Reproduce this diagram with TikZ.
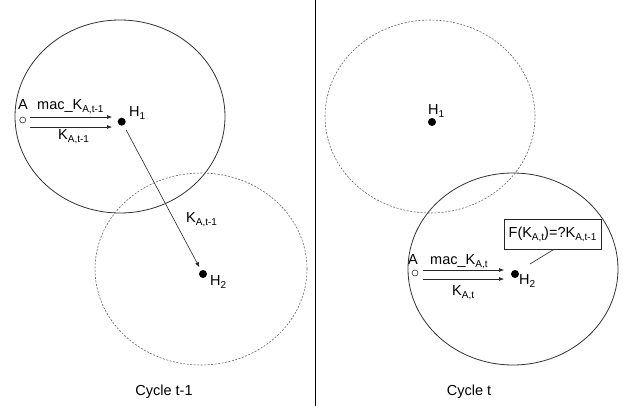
\documentclass[tikz,border=0pt]{standalone}
\usepackage{fontspec}
\setmainfont{Liberation Sans}
\usetikzlibrary{arrows.meta,calc}
\newcommand{\ms}[1]{\raisebox{-3pt}{\fontsize{10}{11}\selectfont #1}}
\begin{document}
\begin{tikzpicture}[x=1pt,y=-1pt, font=\fontsize{14.5}{16}\selectfont,
  solidell/.style={draw=black!80, line width=0.8pt},
  dashell/.style={draw=black!60, line width=0.6pt, dash pattern=on 2pt off 1.5pt},
  hdot/.style={circle, fill=black, inner sep=0pt, minimum size=8pt},
  odot/.style={circle, draw=black!80, line width=0.6pt, inner sep=0pt, minimum size=6pt},
  lbl/.style={anchor=base west, inner sep=0pt},
  arr/.style={-{Latex[length=5pt,width=4pt]}, line width=0.6pt, draw=black!85},
  thinline/.style={line width=0.6pt, draw=black!85}]
\useasboundingbox (0,0) rectangle (623,406);
% ---------- left panel: cycle t-1
\draw[solidell] (120,116.5) ellipse [x radius=105pt, y radius=96.5pt];
\draw[dashell] (201,269) ellipse [x radius=106pt, y radius=96pt];
\node[odot] (Aa) at (22.7,120) {};
\node[lbl] (AaT) at (18,110) {A};
\node[hdot] (H1a) at (121.7,121.7) {};
\node[hdot] (H2a) at (203,274) {};
\node[lbl] (H1aT) at (129,117) {H\ms{1}};
\node[lbl] (H2aT) at (210,285) {H\ms{2}};
\coordinate (a1s) at (30,117); \coordinate (a1e) at (112,117);
\coordinate (a2s) at (30,127); \coordinate (a2e) at (112,127);
\draw[arr] (a1s) -- (a1e);
\draw[arr] (a2s) -- (a2e);
\node[lbl] (macA) at (37,110) {mac\_K\ms{A,t-1}};
\node[lbl] (kA) at (58,140) {K\ms{A,t-1}};
\draw[arr, shorten <=5pt, shorten >=3.5pt] (H1a) -- (H2a);
\node[lbl] (kAmid) at (186,222) {K\ms{A,t-1}};
\node[anchor=base, inner sep=0pt] (cyc1) at (164,395) {Cycle t-1};
% ---------- divider
\coordinate (dTop) at (315,0); \coordinate (dBot) at (315,406);
\draw[line width=0.8pt] (dTop) -- (dBot);
% ---------- right panel: cycle t
\draw[dashell] (430,116.5) ellipse [x radius=105pt, y radius=96.5pt];
\draw[solidell] (513,269) ellipse [x radius=105pt, y radius=96pt];
\node[hdot] (H1b) at (432,122) {};
\node[lbl] (H1bT) at (428,115) {H\ms{1}};
\node[odot] (Ab) at (415,273) {};
\node[lbl] (AbT) at (408,264) {A};
\node[hdot] (H2b) at (515,274) {};
\node[lbl] (H2bT) at (519,284) {H\ms{2}};
\coordinate (b1s) at (423,270); \coordinate (b1e) at (504,270);
\coordinate (b2s) at (423,279); \coordinate (b2e) at (504,279);
\draw[arr] (b1s) -- (b1e);
\draw[arr] (b2s) -- (b2e);
\node[lbl] (macB) at (430,264) {mac\_K\ms{A,t}};
\node[lbl] (kB) at (452,295) {K\ms{A,t}};
\node[draw=black!85, line width=0.6pt, minimum width=97pt, minimum height=30pt, inner sep=0pt] (F) at (552.5,234) {F(K\ms{A,t})=?K\ms{A,t-1}};
\coordinate (Fe) at (530,264);
\draw[thinline] ([xshift=1.5pt]F.south) -- (Fe);
\node[anchor=base, inner sep=0pt] (cyc2) at (469,395) {Cycle t};
\end{tikzpicture}
\end{document}
